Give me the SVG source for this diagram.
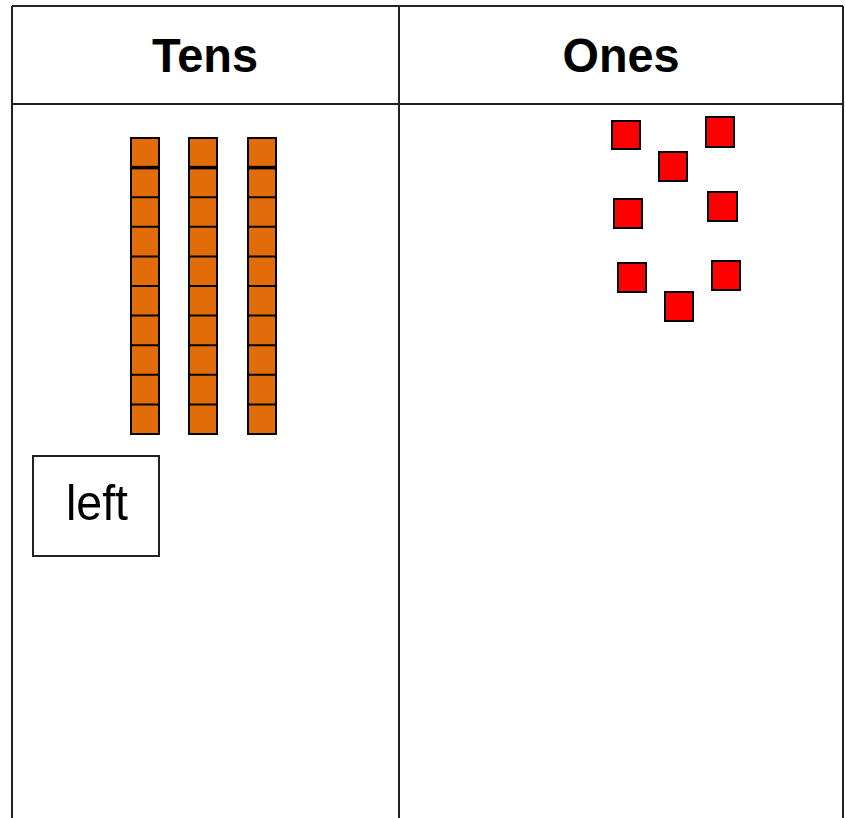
<svg xmlns="http://www.w3.org/2000/svg" width="845" height="818" viewBox="0 0 845 818">
<style>
.grid{stroke:#222;stroke-width:2;fill:none}
.hdr{font-family:"Liberation Sans",Arial,sans-serif;font-weight:bold;font-size:48px;fill:#000;text-anchor:middle}
.rod{fill:#E36C0A;stroke:#000;stroke-width:2}
.div{stroke:#000;stroke-width:2}
.one{fill:#FF0000;stroke:#000;stroke-width:2}
.lbl{font-family:"Liberation Sans",Arial,sans-serif;font-size:50px;fill:#000;text-anchor:middle}
</style>
<rect width="845" height="818" fill="#fff"/>
<g id="table">
<path class="grid" d="M12,6 H843 M12,104 H843 M12,6 V818 M399,6 V818 M843,6 V818"/>
<text class="hdr" x="205" y="72" textLength="106" lengthAdjust="spacingAndGlyphs">Tens</text>
<text class="hdr" x="621" y="72" textLength="117" lengthAdjust="spacingAndGlyphs">Ones</text>
</g>
<defs>
<g id="rodShape">
<rect class="rod" x="0" y="0" width="28" height="296"/>
<line x1="0" y1="29.6" x2="28" y2="29.6" stroke="#000" stroke-width="3.5"/>
<path class="div" d="M0,59.2H28 M0,88.8H28 M0,118.4H28 M0,148H28 M0,177.6H28 M0,207.2H28 M0,236.8H28 M0,266.4H28"/>
</g>
</defs>
<g id="rod1"><use href="#rodShape" x="131" y="138"/></g>
<g id="rod2"><use href="#rodShape" x="189" y="138"/></g>
<g id="rod3"><use href="#rodShape" x="248" y="138"/></g>
<g id="left-box">
<rect x="33" y="456" width="126" height="100" fill="#fff" stroke="#222" stroke-width="2"/>
<text class="lbl" x="97" y="520" textLength="62" lengthAdjust="spacingAndGlyphs">left</text>
</g>
<g id="ones">
<rect class="one" x="612" y="121" width="28" height="28"/>
<rect class="one" x="706" y="117" width="28" height="30"/>
<rect class="one" x="659" y="152" width="28" height="29"/>
<rect class="one" x="614" y="199" width="28" height="29"/>
<rect class="one" x="708" y="192" width="29" height="29"/>
<rect class="one" x="618" y="263" width="28" height="29"/>
<rect class="one" x="712" y="261" width="28" height="29"/>
<rect class="one" x="665" y="292" width="28" height="29"/>
</g>
</svg>
